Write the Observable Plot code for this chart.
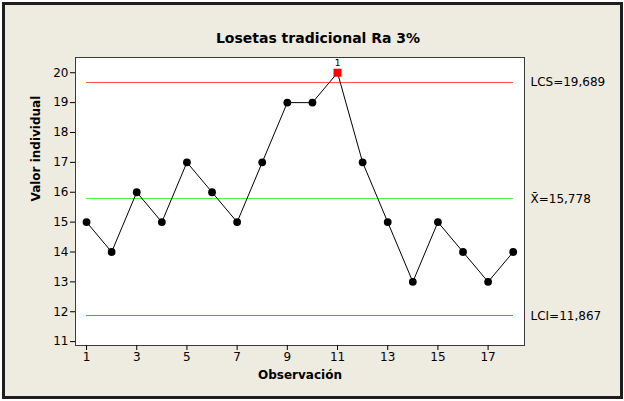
<!DOCTYPE html>
<html>
<head>
<meta charset="utf-8">
<script src="https://cdn.jsdelivr.net/npm/d3@7"></script>
<script src="https://cdn.jsdelivr.net/npm/@observablehq/plot@0.6"></script>
<style>
  html, body { margin: 0; padding: 0; background: #ffffff; }
  #wrap { position: relative; width: 624px; height: 401px; overflow: hidden; }
  #frame { position: absolute; left: 2px; top: 2px; width: 615px; height: 391px;
           border: 3px solid #1e1e1e; background: #eeebe1; }
  #chart { position: absolute; left: 0; top: 0; }
</style>
</head>
<body>
<div id="wrap"><div id="frame"></div><div id="chart"></div></div>
<script>
// Data
const title = "Losetas tradicional Ra 3%";
const xLabel = "Observación";
const yLabel = "Valor individual";
const observations = [1,2,3,4,5,6,7,8,9,10,11,12,13,14,15,16,17,18];
const values = [15,14,16,15,17,16,15,17,19,19,20,17,15,13,15,14,13,14];
const xTicks = [1,3,5,7,9,11,13,15,17];
const yTicks = [11,12,13,14,15,16,17,18,19,20];
const limitNames = ["LCS", "X\u0304", "LCI"];
const limitValues = [19.689, 15.778, 11.867];
const limitLabels = ["LCS=19,689", "X\u0304=15,778", "LCI=11,867"];
const limitColors = ["#ff4f4f", "#4ef04e", "#ff4f4f"];

const data = observations.map((o, i) => ({obs: o, val: values[i]}));
const ucl = limitValues[0], lcl = limitValues[2];
const outOfControl = data.filter(d => d.val > ucl || d.val < lcl);
const inControl = data.filter(d => !(d.val > ucl || d.val < lcl));
const limits = limitValues.map((v, i) => ({name: limitNames[i], value: v, label: limitLabels[i], color: limitColors[i]}));
const xFirst = d3.min(observations), xLast = d3.max(observations);

const limitRules = limits.map(l =>
  Plot.ruleY([l], {y: "value", x1: xFirst, x2: xLast, stroke: l.color, strokeWidth: 1, shapeRendering: "crispEdges"})
);

const chart = Plot.plot({
  width: 624,
  height: 401,
  marginLeft: 75,
  marginRight: 100,
  marginTop: 57,
  marginBottom: 56,
  style: {background: "transparent", fontFamily: "'DejaVu Sans', sans-serif", fontSize: "12px", color: "#000"},
  x: {domain: [0.56, 18.45]},
  y: {domain: [10.87, 20.51]},
  marks: [
    Plot.frame({fill: "white", stroke: "#3a3a3a"}),
    Plot.axisX({ticks: xTicks, tickSize: 5, tickPadding: 2, label: null, tickFormat: d => String(d), fontSize: 12}),
    Plot.axisY({ticks: yTicks, tickSize: 5, tickPadding: 2, label: null, tickFormat: d => String(d), fontSize: 12}),
    ...limitRules,
    Plot.text(limits, {y: "value", text: "label", frameAnchor: "right", dx: 6, textAnchor: "start", fontSize: 12}),
    Plot.line(data, {x: "obs", y: "val", stroke: "black", strokeWidth: 1}),
    Plot.dot(inControl, {x: "obs", y: "val", r: 3.9, fill: "black", stroke: "none"}),
    Plot.dot(outOfControl, {x: "obs", y: "val", r: 4.5, symbol: "square", fill: "#ff0000", stroke: "none"}),
    Plot.text(outOfControl, {x: "obs", y: "val", text: () => "1", dy: -10, fontSize: 9}),
    Plot.text([title], {frameAnchor: "top", dx: 18, dy: -19, fontSize: 14, fontWeight: "bold", lineAnchor: "middle"}),
    Plot.text([xLabel], {frameAnchor: "bottom", dy: 30, fontSize: 12, fontWeight: "bold", lineAnchor: "middle"}),
    Plot.text([yLabel], {frameAnchor: "left", dx: -39, rotate: -90, fontSize: 12, fontWeight: "bold", lineAnchor: "middle"})
  ]
});
document.getElementById("chart").appendChild(chart);
</script>
</body>
</html>
